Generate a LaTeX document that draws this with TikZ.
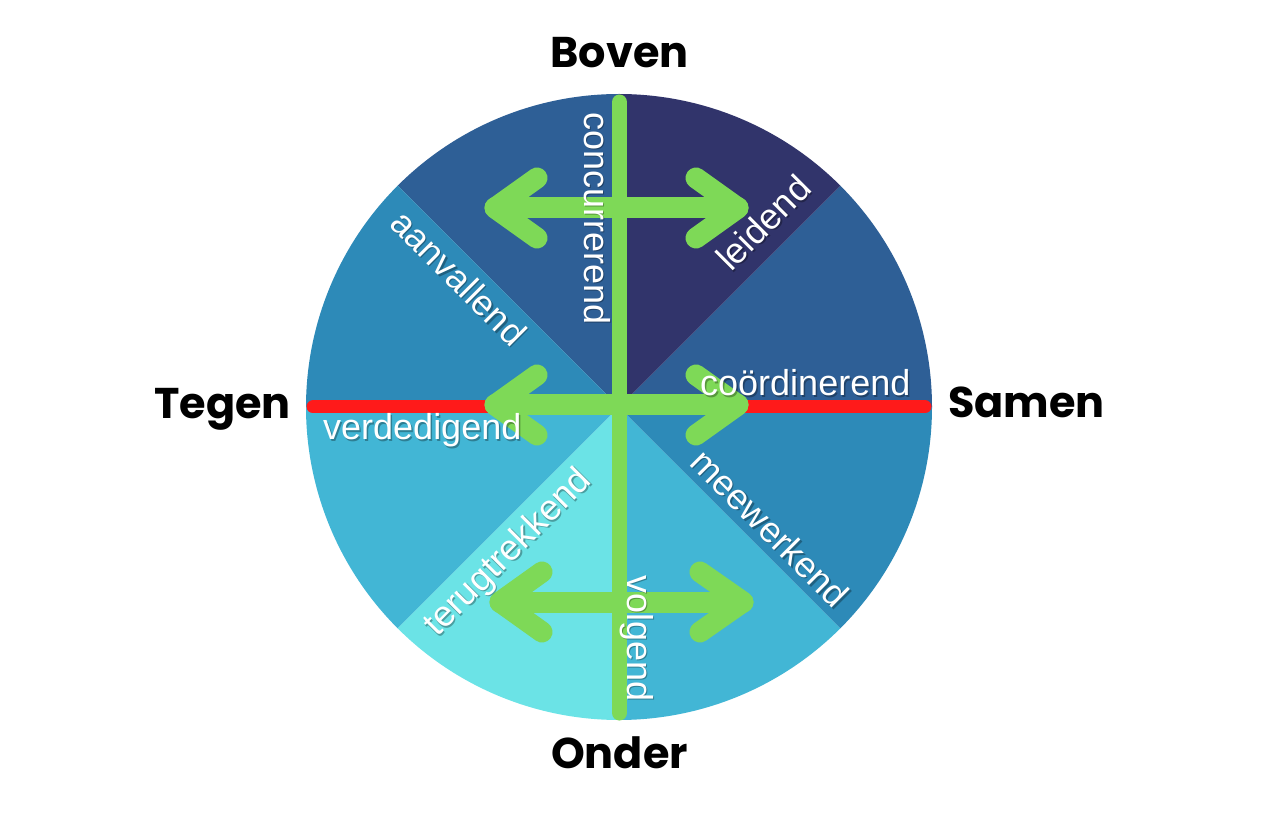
\documentclass[tikz,border=0pt]{standalone}
\usepackage{fontspec}
\setmainfont{Liberation Sans}
\newfontfamily\bigfont{Poppins}
\usetikzlibrary{calc}
\definecolor{navy}{HTML}{31346B}
\definecolor{blueA}{HTML}{2E5F96}
\definecolor{blueB}{HTML}{2D8AB8}
\definecolor{blueC}{HTML}{42B6D5}
\definecolor{cyanL}{HTML}{6BE3E6}
\definecolor{grn}{HTML}{7ED957}
\definecolor{redl}{HTML}{FF1A1A}
\newcommand\shlbl[4]{%
  \node[shd, rotate=#2] at ($(#1)+(1.5,-1.5)$) {#3};
  \node[lbl, rotate=#2] (#4) at (#1) {#3};}
\begin{document}
\begin{tikzpicture}[x=1pt,y=1pt,
  lbl/.style={text=white, font=\fontsize{36}{40}\selectfont, inner sep=0pt, anchor=base west},
  shd/.style={text=black, opacity=0.3, font=\fontsize{36}{40}\selectfont, inner sep=0pt, anchor=base west},
  big/.style={font=\bigfont\bfseries\fontsize{43}{48}\selectfont, inner sep=0pt, anchor=base, text=black},
  grnline/.style={draw=grn, line width=21pt, line cap=round, line join=round},
  axisline/.style={draw=grn, line width=15pt, line cap=round},
  redline/.style={draw=redl, line width=13pt, line cap=round}]
\useasboundingbox (0,0) rectangle (1280,815);
\coordinate (c) at (619,408);
\foreach \a/\col in {0/blueA,45/navy,90/blueA,135/blueB,180/blueC,225/cyanL,270/blueC,315/blueB}
  \fill[\col] (c) -- ++(\a:313) arc[start angle=\a, end angle=\a+45, radius=313] -- cycle;
% red axis
\coordinate (rl) at (313,408);
\coordinate (rr) at (925,408);
\draw[redline] (rl) -- (rr);
% green vertical axis
\coordinate (vt) at (619.5,713);
\coordinate (vb) at (619.5,102);
\draw[axisline] (vt) -- (vb);
% arrows
\foreach \n/\lx/\rx/\y/\alx/\arx/\h in {t/495/738/607/537/696/30, m/495/738/410/537/696/30, b/500/743/213/542/700/30}{
  \coordinate (\n L) at (\lx,\y);
  \coordinate (\n R) at (\rx,\y);
  \coordinate (\n L1) at (\alx,\y+\h);
  \coordinate (\n L2) at (\alx,\y-\h);
  \coordinate (\n R1) at (\arx,\y+\h);
  \coordinate (\n R2) at (\arx,\y-\h);
  \draw[grnline] (\n L1) -- (\n L) -- (\n L2);
  \draw[grnline] (\n L) -- (\n R);
  \draw[grnline] (\n R1) -- (\n R) -- (\n R2);
}
% labels
\coordinate (p1) at (584,703);
\coordinate (p2) at (627,240);
\coordinate (p3) at (700,419);
\coordinate (p4) at (323,375);
\coordinate (p5) at (731,542);
\coordinate (p6) at (388,590);
\coordinate (p7) at (688,351);
\coordinate (p8) at (437,177);
\shlbl{p1}{-90}{concurrerend}{l1}
\shlbl{p2}{-90}{volgend}{l2}
\shlbl{p3}{0}{coördinerend}{l3}
\shlbl{p4}{0}{verdedigend}{l4}
\shlbl{p5}{45}{leidend}{l5}
\shlbl{p6}{-45}{aanvallend}{l6}
\shlbl{p7}{-45}{meewerkend}{l7}
\shlbl{p8}{45}{terugtrekkend}{l8}
% direction labels
\node[big] (boven) at (619.5,747) {Boven};
\node[big] (onder) at (619.5,47) {Onder};
\node[big] (tegen) at (222.5,396) {Tegen};
\node[big] (samen) at (1026.5,397) {Samen};
\end{tikzpicture}
\end{document}
